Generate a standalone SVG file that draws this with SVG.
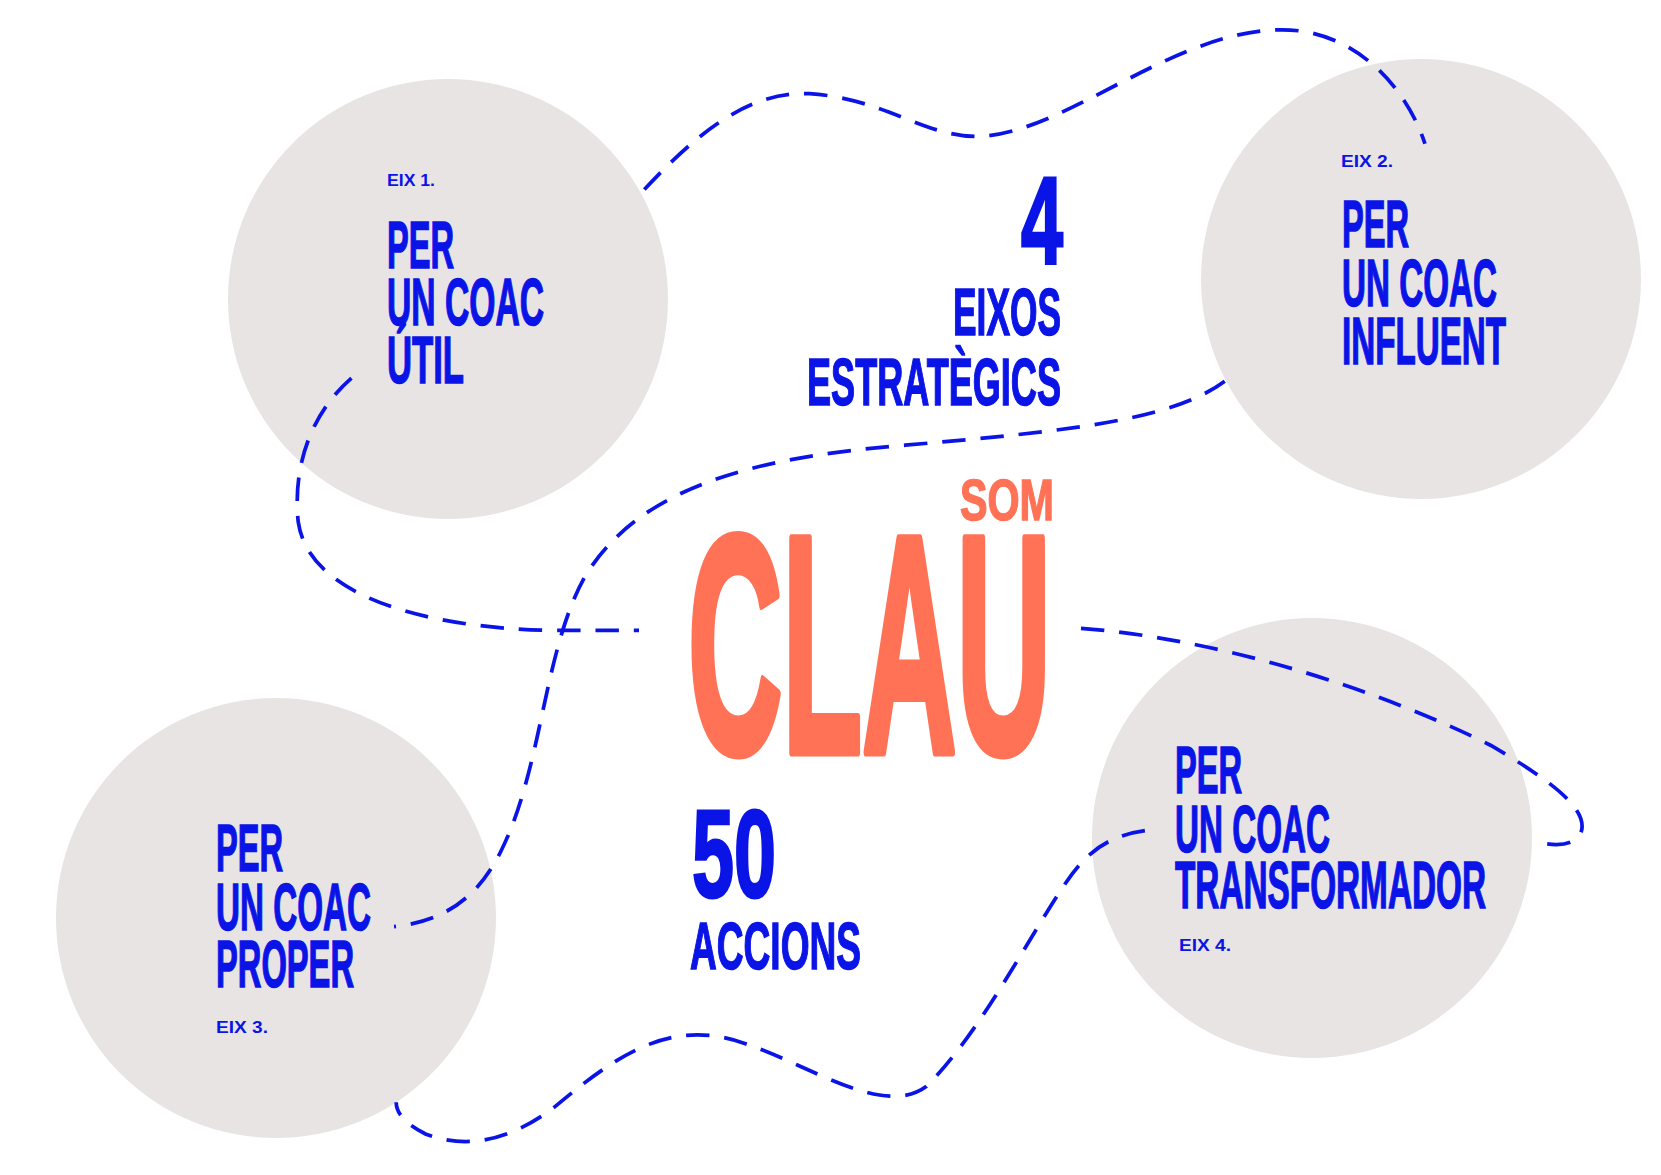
<svg xmlns="http://www.w3.org/2000/svg" width="1661" height="1175" viewBox="0 0 1661 1175">
<style>
.c{fill:#e8e4e4}
.t{font-family:"Liberation Sans",Arial,sans-serif;font-weight:bold;fill:#0a14e6}
.b{font-size:66px;stroke:#0a14e6;stroke-width:1.5}
.s{font-size:16px}
.o{fill:#ff7256}
.d{fill:none;stroke:#0a14e6;stroke-width:3.5;stroke-dasharray:22 14}
</style>
<rect width="1661" height="1175" fill="#fff"/>
<g id="eix1">
<circle class="c" cx="448" cy="299" r="220"/>
<text class="t s" x="387" y="186" textLength="48" lengthAdjust="spacingAndGlyphs">EIX 1.</text>
<text class="t b" x="387" y="268" textLength="67" lengthAdjust="spacingAndGlyphs">PER</text>
<text class="t b" x="387" y="325" textLength="157" lengthAdjust="spacingAndGlyphs">UN COAC</text>
<text class="t b" x="387" y="383" textLength="77" lengthAdjust="spacingAndGlyphs">ÚTIL</text>
</g>
<g id="eix2">
<circle class="c" cx="1421" cy="279" r="220"/>
<text class="t s" x="1341" y="167" textLength="52" lengthAdjust="spacingAndGlyphs">EIX 2.</text>
<text class="t b" x="1342" y="247" textLength="67" lengthAdjust="spacingAndGlyphs">PER</text>
<text class="t b" x="1342" y="306" textLength="155" lengthAdjust="spacingAndGlyphs">UN COAC</text>
<text class="t b" x="1342" y="364" textLength="164" lengthAdjust="spacingAndGlyphs">INFLUENT</text>
</g>
<g id="eix3">
<circle class="c" cx="276" cy="918" r="220"/>
<text class="t b" x="216" y="871" textLength="67" lengthAdjust="spacingAndGlyphs">PER</text>
<text class="t b" x="216" y="930" textLength="155" lengthAdjust="spacingAndGlyphs">UN COAC</text>
<text class="t b" x="216" y="987" textLength="138" lengthAdjust="spacingAndGlyphs">PROPER</text>
<text class="t s" x="216" y="1033" textLength="52" lengthAdjust="spacingAndGlyphs">EIX 3.</text>
</g>
<g id="eix4">
<circle class="c" cx="1312" cy="838" r="220"/>
<text class="t b" x="1175" y="793" textLength="67" lengthAdjust="spacingAndGlyphs">PER</text>
<text class="t b" x="1175" y="852" textLength="155" lengthAdjust="spacingAndGlyphs">UN COAC</text>
<text class="t b" x="1175" y="908" textLength="311" lengthAdjust="spacingAndGlyphs">TRANSFORMADOR</text>
<text class="t s" x="1179" y="951" textLength="52" lengthAdjust="spacingAndGlyphs">EIX 4.</text>
</g>
<g id="connectors" transform="scale(1.065)">
<path class="d" d="M605,178 C650,130 700,85 760,88 C830,92 870,130 920,128 C1000,125 1100,30 1200,28 C1270,26 1320,80 1338,135"/>
<path class="d" d="M330,355 C290,390 275,440 280,490 C290,560 400,590 520,592 L600,592"/>
<path class="d" d="M1150,358 C1100,395 1000,405 850,418 C700,430 600,460 550,540 C510,610 510,720 470,800 C450,840 420,865 370,870"/>
<path class="d" d="M1015,590 C1150,600 1300,650 1400,700 C1460,735 1490,760 1485,780 C1480,795 1460,795 1440,790"/>
<path class="d" d="M1075,780 C1040,785 1020,800 1000,830 C960,890 920,970 870,1020 C830,1050 760,1000 700,980 C630,955 580,990 520,1040 C480,1070 440,1080 400,1065 C380,1055 372,1045 372,1035"/>
</g>
<g id="center">
<text class="t" x="1063" y="263" font-size="125" text-anchor="end" stroke="#0a14e6" stroke-width="3" textLength="42" lengthAdjust="spacingAndGlyphs">4</text>
<text class="t b" x="953" y="335" textLength="108" lengthAdjust="spacingAndGlyphs">EIXOS</text>
<text class="t b" x="807" y="405" textLength="254" lengthAdjust="spacingAndGlyphs">ESTRATÈGICS</text>
<text class="t o" x="960" y="520" font-size="58" stroke="#ff7256" stroke-width="1.5" textLength="94" lengthAdjust="spacingAndGlyphs">SOM</text>
<text class="t o" x="688" y="752" font-size="310" stroke="#ff7256" stroke-width="9" stroke-linejoin="round" textLength="363" lengthAdjust="spacingAndGlyphs">CLAU</text>
<text class="t" x="692" y="897" font-size="125" stroke="#0a14e6" stroke-width="3" textLength="84" lengthAdjust="spacingAndGlyphs">50</text>
<text class="t b" x="690" y="969" textLength="171" lengthAdjust="spacingAndGlyphs">ACCIONS</text>
</g>
</svg>
